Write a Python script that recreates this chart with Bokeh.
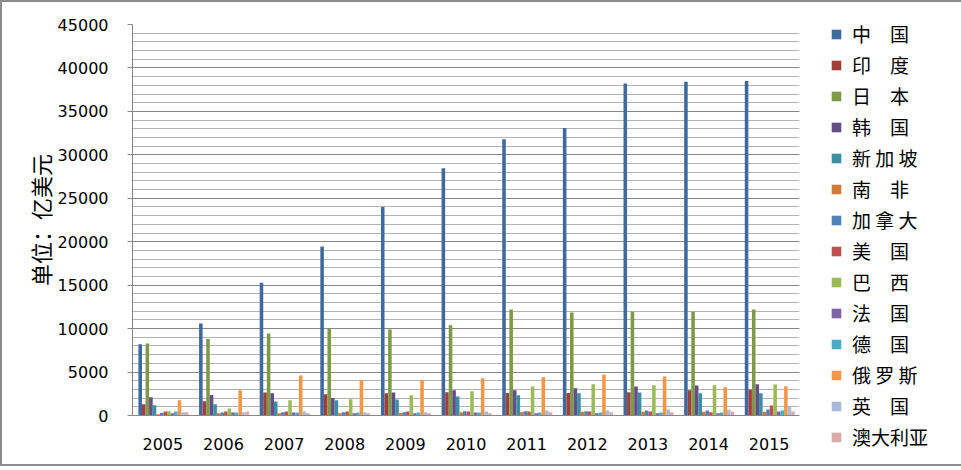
from bokeh.plotting import figure
from bokeh.models import (Legend, LegendItem, SingleIntervalTicker, ColumnDataSource,
                          Range1d)
from bokeh.transform import dodge
from bokeh.embed import file_html
from bokeh.resources import INLINE

years = ["2005", "2006", "2007", "2008", "2009", "2010", "2011", "2012", "2013", "2014", "2015"]

china     = [8200, 10600, 15280, 19460, 24000, 28470, 31800, 33100, 38200, 38400, 38500]
india     = [1300, 1650, 2650, 2450, 2550, 2680, 2580, 2580, 2680, 2900, 3000]
japan     = [8300, 8800, 9450, 10000, 9900, 10400, 12200, 11850, 11950, 11950, 12200]
korea     = [2100, 2350, 2570, 2000, 2650, 2900, 2900, 3150, 3350, 3450, 3600]
singapore = [1180, 1300, 1620, 1750, 1850, 2200, 2320, 2550, 2650, 2550, 2550]
s_africa  = [150, 250, 260, 260, 280, 380, 400, 420, 420, 420, 420]
canada    = [280, 350, 380, 380, 380, 480, 480, 480, 580, 580, 700]
usa       = [470, 470, 470, 470, 470, 470, 470, 470, 470, 360, 1150]
brazil    = [500, 820, 1750, 1870, 2330, 2800, 3350, 3600, 3480, 3480, 3580]
france    = [250, 350, 350, 250, 250, 350, 250, 250, 250, 250, 470]
germany   = [470, 350, 350, 350, 350, 350, 350, 350, 350, 350, 580]
russia    = [1750, 2900, 4600, 4050, 4050, 4280, 4400, 4720, 4500, 3250, 3380]
uk        = [360, 360, 470, 360, 360, 470, 580, 580, 700, 700, 1040]
australia = [360, 470, 250, 250, 250, 250, 360, 360, 360, 470, 470]

names = ["中　国", "印　度", "日　本", "韩　国", "新 加 坡", "南　非", "加 拿 大",
         "美　国", "巴　西", "法　国", "德　国", "俄 罗 斯", "英　国", "澳大利亚"]
series = [china, india, japan, korea, singapore, s_africa, canada,
          usa, brazil, france, germany, russia, uk, australia]
colors = ["#3F6AA0", "#A23F3D", "#7E9A49", "#654D87", "#3A8FA6", "#CF7B35", "#4F81BD",
          "#C0504D", "#9BBB59", "#8064A2", "#4BACC6", "#F79646", "#A8B9D9", "#DBA9A8"]

data = {"year": years}
for i, s in enumerate(series):
    data["s%d" % i] = s
source = ColumnDataSource(data)

p = figure(x_range=years, y_range=Range1d(0, 45000), frame_width=667, frame_height=391,
           output_backend="svg", toolbar_location=None,
           min_border_left=130, min_border_right=120, min_border_top=22, min_border_bottom=49)
p.outline_line_color = None
p.styles = {"border": "2px solid #8c8c8c"}

n = len(series)
bw = 0.825 / n
items = []
for i in range(n):
    off = -0.4125 + bw * (i + 0.5) + 0.01
    r = p.vbar(x=dodge("year", off, range=p.x_range), top="s%d" % i, width=bw,
               source=source, fill_color=colors[i], line_color=None)
    items.append(LegendItem(label=names[i], renderers=[r]))

legend = Legend(items=items, location=(31, -37), orientation="vertical", ncols=1,
                glyph_width=12, glyph_height=12, label_height=31, spacing=0,
                padding=0, margin=0, border_line_color=None, background_fill_alpha=0,
                label_text_font="Noto Sans CJK SC", label_text_font_size="19px",
                label_standoff=10, label_text_color="#000000")
p.add_layout(legend, "right")

p.yaxis.ticker = SingleIntervalTicker(interval=5000, num_minor_ticks=5)
p.yaxis.axis_line_color = "#868686"
p.yaxis.major_tick_line_color = "#868686"
p.yaxis.major_tick_out = 5
p.yaxis.major_tick_in = 0
p.yaxis.minor_tick_line_color = None
p.yaxis.major_label_text_font = "DejaVu Sans"
p.yaxis.major_label_text_font_size = "16px"
p.yaxis.major_label_text_color = "#000000"
p.yaxis.major_label_standoff = 19
p.yaxis.axis_label = "单位：亿美元"
p.yaxis.axis_label_text_font = "Noto Sans CJK SC"
p.yaxis.axis_label_text_font_size = "22px"
p.yaxis.axis_label_text_font_style = "normal"
p.yaxis.axis_label_text_color = "#000000"
p.yaxis.axis_label_standoff = -1

p.xaxis.axis_line_color = "#868686"
p.xaxis.major_tick_line_color = None
p.xaxis.minor_tick_line_color = None
p.xaxis.major_label_text_font = "DejaVu Sans"
p.xaxis.major_label_text_font_size = "16px"
p.xaxis.major_label_text_color = "#000000"
p.xaxis.major_label_standoff = 16

p.xgrid.grid_line_color = None
p.ygrid.grid_line_color = "#868686"
p.ygrid.minor_grid_line_color = "#B3B3B3"

open("out.html", "w").write(file_html(p, INLINE))
